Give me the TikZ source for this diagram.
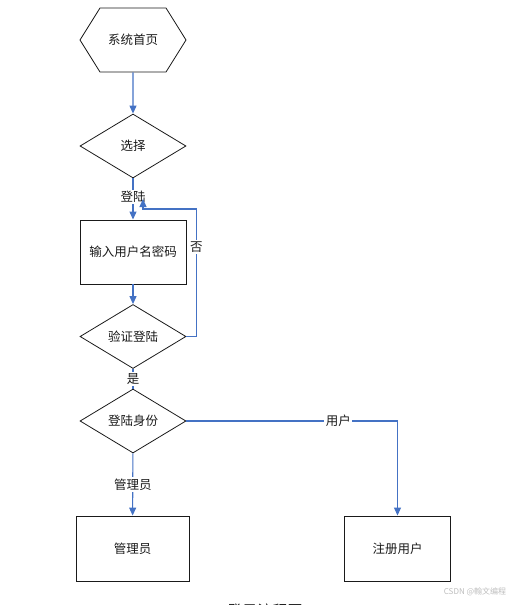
\documentclass[tikz,border=0pt]{standalone}
\usepackage{fontspec}
\setmainfont{Noto Sans CJK SC}
\usetikzlibrary{arrows.meta, calc, shapes.geometric, shapes.symbols}
\definecolor{ink}{HTML}{1A1A1A}
\definecolor{flow}{HTML}{4472C4}
\definecolor{muted}{HTML}{BDBDBD}

\begin{document}
\begin{tikzpicture}[
  % one unit is one pixel of the page, y running downwards
  x=1pt, y=-1pt,
  >={Triangle[length=8pt, width=7pt]},
  font=\fontsize{12.5}{14}\selectfont,
  box/.style={draw=ink, line width=0.9pt, minimum width=#1,
              minimum height=64pt, inner sep=2pt, text=ink},
  box/.default=106pt,
  decide/.style={diamond, draw=ink, line width=0.8pt, minimum width=106pt,
                 minimum height=64pt, inner sep=0pt, text=ink},
  start/.style={signal, signal to=west and east, signal pointer angle=116,
                draw=ink, line width=0.8pt, minimum width=106pt,
                minimum height=64pt, inner sep=0pt, text=ink},
  arr/.style={->, line width=1.1pt, color=flow},
  link/.style={line width=1.1pt, color=flow},
  lbl/.style={fill=white, inner sep=1.5pt, text=ink},
]
  \useasboundingbox (0,0) rectangle (516,605);

  % --- main column ---
  \node[start]  (home)   at (133,40)    {系统首页};
  \node[decide] (choose) at (133,146)   {选择};
  \node[box]    (input)  at (133,252)   {输入用户名密码};
  \node[decide] (verify) at (133,336.5) {验证登陆};
  \node[decide] (role)   at (133,421)   {登陆身份};

  % --- the two ends ---
  \node[box=113pt, minimum height=65pt] (admin) at (132.5,548.5) {管理员};
  \node[box, minimum height=65pt]       (reg)   at (397.5,548.5) {注册用户};

  % --- connectors ---
  \draw[arr] (home) -- (choose);
  \draw[arr] (choose) -- node[lbl, pos=0.45] {登陆} (input);
  \draw[arr] (input) -- (verify);
  \draw[link] (verify) -- node[lbl, pos=0.5] {是} (role);
  \draw[arr] (role) -- node[lbl, pos=0.5] {管理员} (admin);
  \draw[arr] (role.east) -| node[lbl, pos=0.36] {用户} (reg.north);

  % --- back to the login step ---
  \coordinate (back) at (143,199);
  \draw[arr] (verify.east) -- ++(10,0)
    |- node[lbl, pos=0.35] {否} ($(back)+(0,10)$) -- (back);

  % --- caption and mark ---
  \node[font=\fontsize{15}{17}\selectfont, text=ink] (caption) at (265,611) {登录流程图};
  \node[font=\fontsize{8}{9}\selectfont, text=muted] (mark) at (475,592) {CSDN @翰文编程};
\end{tikzpicture}
\end{document}
